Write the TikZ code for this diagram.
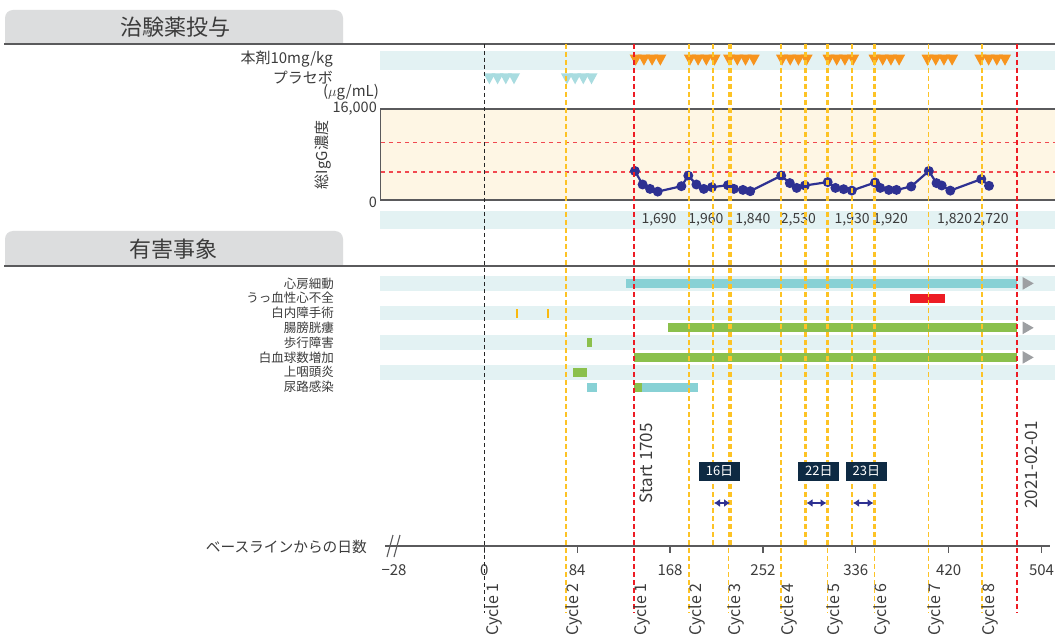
\documentclass[tikz,border=0pt]{standalone}
\usepackage{fontspec}
\setmainfont{Noto Sans CJK JP}
\usetikzlibrary{arrows.meta}

\definecolor{tabgray}{HTML}{DCDDDE}
\definecolor{rulegray}{HTML}{5A5A5C}
\definecolor{bandteal}{HTML}{E3F2F3}
\definecolor{chartcream}{HTML}{FEF6E4}
\definecolor{cycred}{HTML}{ED1C24}
\definecolor{cycyellow}{HTML}{FDC325}
\definecolor{tickyellow}{HTML}{F9B90F}
\definecolor{doseorange}{HTML}{F7941D}
\definecolor{placeboteal}{HTML}{A9DCE0}
\definecolor{ptnavy}{HTML}{2E3192}
\definecolor{barteal}{HTML}{88D1D5}
\definecolor{bargreen}{HTML}{8BC04C}
\definecolor{arrowgray}{HTML}{9D9FA2}
\definecolor{boxnavy}{HTML}{0E2A43}
\definecolor{txtgray}{HTML}{3C3C3C}

\newcommand{\fsz}[1]{\fontsize{#1}{#1}\selectfont}
\newcommand{\dosegroup}[3]{%
  \foreach \k in {0,...,3}
    {\fill[#3] (#1+\k*8.2,#2) -- ++(12,0) -- ++(-6,11) -- cycle;}}

\tikzset{
  tabtext/.style={inner sep=0pt,text=txtgray,font=\fsz{22}},
  rowlbl/.style={anchor=east,inner sep=0pt,text=txtgray,font=\fsz{15}},
  aelbl/.style={anchor=east,inner sep=0pt,text=txtgray,font=\fsz{12.5}},
  numlbl/.style={inner sep=0pt,text=txtgray,font=\fsz{14}},
  ticklbl/.style={inner sep=0pt,text=txtgray,font=\fsz{15}},
  cyclbl/.style={rotate=90,anchor=base east,inner sep=0pt,text=txtgray,font=\fsz{16}},
  biglbl/.style={rotate=90,anchor=base east,inner sep=0pt,text=txtgray,font=\fsz{17}},
  blackline/.style={black!85,line width=1.1pt,dash pattern=on 4pt off 3pt},
  redline/.style={cycred,line width=2.2pt,dash pattern=on 5pt off 3pt},
  thinyel/.style={cycyellow,line width=1.3pt,dash pattern=on 5pt off 3pt},
  thickyel/.style={cycyellow,line width=2.2pt,dash pattern=on 5pt off 3pt},
  refline/.style={cycred!80,line width=1.3pt,dash pattern=on 4pt off 4pt},
  ptline/.style={ptnavy,line width=2.2pt},
  ptdot/.style={circle,fill=ptnavy,inner sep=0pt,minimum size=10pt},
  daybox/.style={fill=boxnavy,text=white,font=\fsz{13},minimum width=41pt,minimum height=19pt,inner sep=0pt},
  dayarrow/.style={ptnavy,line width=2.4pt,arrows={Latex[length=6pt,width=8pt]-Latex[length=6pt,width=8pt]}},
  moretip/.style={fill=arrowgray}
}

\begin{document}
\begin{tikzpicture}[x=1pt,y=-1pt]
\useasboundingbox[fill=white] (0,0) rectangle (1055,639);

\fill[tabgray,rounded corners=8pt] (5,43) -- (5,10) -- (343,10) -- (343,43);
\node[tabtext] (tabdose) at (175,27) {治験薬投与};
\draw[rulegray,line width=2pt] (4,44) -- (1055,44);

\fill[bandteal] (380,51) rectangle (1055,70);
\node[rowlbl] (lbldrug) at (333,59) {本剤10mg/kg};
\node[rowlbl] (lblplacebo) at (333,78) {プラセボ};

\fill[chartcream] (380,109) rectangle (1055,200);
\draw[refline] (381,142.7) -- (1055,142.7);
\draw[refline] (381,172) -- (1055,172);
\draw[rulegray,line width=1.5pt] (1055,109) -- (380.7,109) -- (380.7,200) -- (1055,200);
\node[inner sep=0pt,text=txtgray,font=\fsz{15}] (unit) at (351,92) {($\mu$g/mL)};
\node[numlbl,anchor=east,font=\fsz{14.5}] (ymax) at (377,109) {16,000};
\node[numlbl,anchor=east,font=\fsz{14.5}] (yzero) at (377,202) {0};
\node[rotate=90,inner sep=0pt,text=txtgray,font=\fsz{15}] (ylbl) at (323.5,155) {総IgG濃度};

\fill[bandteal] (380,211) rectangle (1055,229);
\foreach \nx/\nv [count=\i] in {659/{1,690},705.9/{1,960},752.8/{1,840},798.4/{2,530},
    852.2/{1,930},890.5/{1,920},954.6/{1,820},991.2/{2,720}}
  {\node[numlbl] (num\i) at (\nx,220) {\nv};}

\dosegroup{483.4}{73.3}{placeboteal}
\dosegroup{560.9}{73.3}{placeboteal}
\foreach \gx in {629.7,683.9,723.1,776,822.5,868.5,921.5,974.4}
  {\dosegroup{\gx}{54.7}{doseorange}}

\foreach \px/\py [count=\i] in {634.9/171.0,642.6/184.5,650.0/188.9,657.7/191.6,
    681.4/186.2,688.3/175.7,696.4/184.5,703.8/188.9,711.9/187.2,727.9/185.2,
    733.9/188.9,742.9/189.9,750.2/191.2,781.2/175.7,789.8/183.1,796.7/187.9,
    804.9/185.5,827.7/182.1,835.4/187.9,843.6/189.2,851.8/190.6,875.0/182.5,
    880.2/187.9,888.8/189.9,896.5/189.9,911.2/186.5,928.8/171.0,936.5/183.1,
    941.7/185.5,950.3/190.6,981.3/179.1,989.0/185.8}
  {\coordinate (p\i) at (\px,\py);}
\foreach \i [evaluate=\i as \j using int(\i+1)] in {1,...,31}
  {\draw[ptline] (p\i) -- (p\j);}
\foreach \i in {1,...,32}
  {\node[ptdot] (dot\i) at (p\i) {};}

\fill[tabgray,rounded corners=8pt] (5,265) -- (5,231) -- (343,231) -- (343,265);
\node[tabtext] (tabae) at (173,249) {有害事象};
\draw[rulegray,line width=2pt] (4,266) -- (1055,266);

\foreach \r in {1,3,5,7}
  {\fill[bandteal] (380,276+\r*14.8-14.8) rectangle (1055,276+\r*14.8);}
\foreach \ae [count=\r] in {心房細動,うっ血性心不全,白内障手術,腸膀胱瘻,歩行障害,白血球数増加,上咽頭炎,尿路感染}
  {\node[aelbl] (ae\r) at (334,283.4+\r*14.8-14.8) {\ae};}

\fill[barteal] (626.3,279) rectangle (1017,288);
\fill[cycred] (910.3,293.7) rectangle (945.3,302.7);
\fill[tickyellow] (516,309) rectangle (518.2,318);
\fill[tickyellow] (547,309) rectangle (549.2,318);
\fill[bargreen] (668.3,323.3) rectangle (1017,332.3);
\fill[bargreen] (587,338) rectangle (592,347);
\fill[bargreen] (634.3,353) rectangle (1017,362);
\fill[bargreen] (573,367.7) rectangle (587,376.7);
\fill[barteal] (587,382.5) rectangle (597,391.5);
\fill[bargreen] (634.3,382.5) rectangle (642.3,391.5);
\fill[barteal] (642.3,382.5) rectangle (698.3,391.5);
\foreach \ty in {283.4,327.8,357.4}
  {\fill[moretip] (1022.7,\ty-6.3) -- (1033.7,\ty) -- (1022.7,\ty+6.3) -- cycle;}

\draw[rulegray,line width=1.3pt] (385,546) -- (1050,546);
\draw[rulegray,line width=1.1pt] (387,557) -- (393,535);
\draw[rulegray,line width=1.1pt] (394,557) -- (400,535);
\foreach \d in {0,84,...,504}
  {\draw[rulegray,line width=1.3pt] (484.3+\d*1.1056,546) -- ++(0,7);}
\node[ticklbl] (tm28) at (394,570) {−28};
\foreach \d in {0,84,...,504}
  {\node[ticklbl] (t\d) at (484.3+\d*1.1056,570) {\d};}
\node[rowlbl,font=\fsz{14.7}] (axislbl) at (367,546.5) {ベースラインからの日数};

\draw[blackline] (484.3,44) -- (484.3,613);
\foreach \x in {566,689,728.5,781,827.5,874.5,928.5,982}
  {\draw[thinyel] (\x,44) -- (\x,613);}
\foreach \x in {713,730.5,805.5,827.5,852,874.5}
  {\draw[thickyel] (\x,44) -- (\x,546);}
\draw[redline] (634,44) -- (634,613);
\draw[redline] (1017,44) -- (1017,613);

\node[cyclbl] (cy0) at (498.3,583) {Cycle 1};
\foreach \x/\c [count=\i] in {566/2,634/1,689/2,728.5/3,781/4,827.5/5,874.5/6,928.5/7,982/8}
  {\node[cyclbl] (cy\i) at (\x+12,583) {Cycle \c};}
\node[biglbl] (start) at (652.5,423) {Start 1705};
\node[biglbl] (enddate) at (1037.5,421) {2021-02-01};

\node[daybox] (d16) at (719.5,471.4) {16日};
\node[daybox] (d22) at (818.8,471.4) {22日};
\node[daybox] (d23) at (866.4,471.4) {23日};
\coordinate (a16l) at (714,503);
\coordinate (a16r) at (730,503);
\coordinate (a22l) at (806.5,503);
\coordinate (a22r) at (826.5,503);
\coordinate (a23l) at (853,503);
\coordinate (a23r) at (873.5,503);
\draw[dayarrow] (a16l) -- (a16r);
\draw[dayarrow] (a22l) -- (a22r);
\draw[dayarrow] (a23l) -- (a23r);
\end{tikzpicture}
\end{document}
